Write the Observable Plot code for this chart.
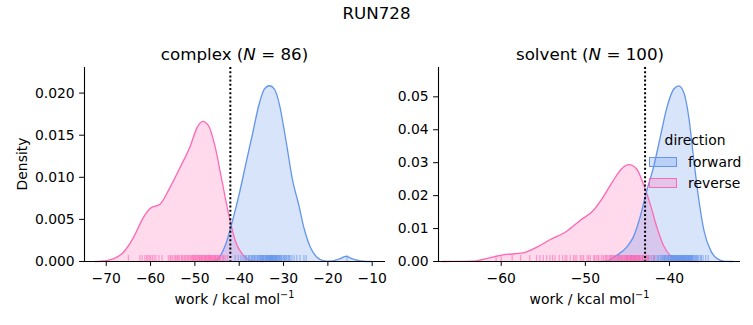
<!DOCTYPE html>
<html><head><meta charset="utf-8">
<script src="https://cdn.jsdelivr.net/npm/d3@7"></script>
<script src="https://cdn.jsdelivr.net/npm/@observablehq/plot@0.6"></script>
<style>
body{margin:0;background:#fff;font-family:"DejaVu Sans",sans-serif;color:#000;}
#fig{position:relative;width:753px;height:325px;overflow:hidden;}
.abs{position:absolute;white-space:nowrap;}
.sup{font-size:9.7px;position:relative;top:-6px;}
</style></head><body><div id="fig"></div>
<script>
const BLUE = "#6495ED", PINK = "#FF69B4";
const suptitle = "RUN728";
const panelTitles = [["complex", 86], ["solvent", 100]];
const xLabel = "work / kcal mol";
const yLabel = "Density";
const legendTitle = "direction";
const legendItems = ["forward", "reverse"];

// complex panel: KDE curves
const complexReverseX = [-72.5, -71.3, -68.4, -66.1, -63.8, -61.6, -60.1, -57.8, -55.6, -53.3, -51.0, -49.5, -48.25, -46.9, -45.4, -43.9, -42.4, -40.9, -39.0, -36.8, -34.5];
const complexReverseD = [0, 0.00003, 0.00032, 0.0011, 0.0029, 0.00525, 0.0063, 0.00684, 0.0088, 0.0112, 0.01376, 0.0159, 0.01664, 0.0161, 0.01355, 0.0096, 0.00566, 0.0025, 0.0007, 0.00005, 0];
const complexForwardX = [-47.5, -45.8, -44.5, -43.0, -41.5, -40.0, -38.5, -37.0, -35.5, -34.3, -33.2, -32.1, -30.95, -29.45, -27.95, -26.6, -25.45, -23.95, -22.45, -21.0, -19.7, -17.4, -15.9, -14.4, -12.1, -10];
const complexForwardD = [0, 0.00004, 0.0005, 0.0021, 0.00486, 0.0080, 0.0116, 0.01514, 0.0187, 0.0205, 0.02087, 0.0205, 0.0187, 0.01435, 0.0096, 0.0068, 0.0041, 0.0017, 0.0005, 0.0001, 0.00003, 0.0003, 0.0006, 0.0003, 0.00003, 0];
// solvent panel
const solventReverseX = [-67, -65.8, -63.4, -61.4, -59.8, -57.4, -55.8, -54.2, -52.2, -50.65, -49.05, -47.9, -46.7, -45.7, -44.8, -43.9, -43.1, -42.3, -41.5, -40.7, -39.9, -38.9, -37.9, -36.5];
const solventReverseD = [0, 0.00003, 0.0001, 0.0011, 0.002, 0.0026, 0.0043, 0.0066, 0.0092, 0.0124, 0.0155, 0.0195, 0.0245, 0.0281, 0.0294, 0.0281, 0.0235, 0.0175, 0.0104, 0.0048, 0.0018, 0.0003, 0.00003, 0];
const solventForwardX = [-48.5, -47.5, -46.3, -45.1, -44.3, -43.5, -42.7, -41.9, -41.1, -40.3, -39.5, -38.9, -38.3, -37.7, -37.1, -36.5, -35.9, -35.1, -34.3, -33.4, -32.5];
const solventForwardD = [0, 0.0001, 0.0018, 0.0043, 0.0074, 0.0134, 0.0215, 0.0286, 0.0377, 0.0468, 0.0523, 0.0533, 0.0513, 0.0437, 0.0306, 0.0185, 0.0094, 0.0033, 0.0008, 0.00005, 0];

// rug samples (estimated positions)
const complexReverseRug = [-65.0, -62.4, -61.9, -61.3, -60.9, -60.6, -60.3, -60.0, -59.6, -59.2, -58.8, -58.1, -57.4,
  -56.0, -55.6, -55.1, -54.7, -54.2, -53.8, -53.5, -53.1, -52.7, -52.4, -52.0, -51.7, -51.3,
  -51.0, -50.8, -50.5, -50.2, -50.0, -49.7, -49.5, -49.2, -49.0, -48.8, -48.6, -48.3, -48.1, -47.9, -47.7, -47.4, -47.2, -47.0, -46.8, -46.5,
  -46.3, -46.1, -45.9, -45.6, -45.4, -45.1, -44.8, -44.5, -44.2, -43.8, -43.4, -43.0, -42.6,
  -49.9, -49.4, -48.9, -48.4, -47.8, -47.3, -46.9, -46.4, -45.8, -45.3, -44.9, -44.6, -53.9, -52.9, -52.2, -51.5, -50.6, -50.3, -48.5, -47.6, -46.7, -46.2, -45.5, -44.4, -43.6, -55.4, -54.4];
const complexForwardRug = [-40.9, -40.2, -39.6, -39.1, -38.7, -38.3, -37.9, -37.6, -37.3, -37.0, -36.8, -36.5, -36.3, -36.0, -35.8, -35.6, -35.4, -35.2, -35.0, -34.8,
  -34.6, -34.4, -34.2, -34.0, -33.8, -33.7, -33.5, -33.3, -33.1, -33.0, -32.8, -32.6, -32.4, -32.2, -32.0, -31.8, -31.6, -31.4, -31.2, -31.0,
  -30.8, -30.6, -30.4, -30.1, -29.8, -29.5, -29.2, -28.9, -28.5, -28.1, -27.6, -27.0, -26.3, -25.4, -24.9, -15.7,
  -35.9, -35.3, -34.9, -34.5, -34.1, -33.9, -33.6, -33.4, -33.2, -32.9, -32.7, -32.5, -32.3, -32.1, -31.9, -31.7, -31.5, -31.3, -30.9, -30.5, -36.6, -37.2, -37.8, -38.5, -29.9, -29.4, -28.7, -34.7, -33.0, -32.6];
const solventReverseRug = [-60.6, -60.0, -58.7, -57.7, -56.6, -55.8, -55.4, -55.0, -54.6, -54.2, -53.6, -53.1, -52.7, -52.2, -51.8, -51.4, -51.0, -50.6, -50.2, -49.8,
  -49.4, -49.0, -48.7, -48.4, -48.1, -47.8, -47.6, -47.4, -47.2, -47.0, -46.8, -46.6, -46.4, -46.2, -46.0, -45.9, -45.7, -45.6, -45.4, -45.3,
  -45.1, -45.0, -44.9, -44.8, -44.7, -44.6, -44.5, -44.4, -44.3, -44.2, -44.1, -44.0, -43.9, -43.8, -43.7, -43.6, -43.5, -43.4, -43.2, -43.0,
  -42.8, -42.6, -42.4, -42.1, -41.8,
  -53.9, -52.4, -51.2, -50.4, -49.6, -48.9, -48.5, -47.9, -47.5, -47.1, -46.7, -46.3, -45.8, -45.5, -45.2, -44.95, -44.75, -44.55, -44.35, -44.15, -43.95, -43.75, -43.55, -43.3, -43.1, -42.9, -42.7, -46.9, -46.5, -46.1, -45.65, -45.35, -45.05, -44.65, -44.25];
const solventForwardRug = [-46.0, -45.1, -44.5, -44.0, -43.6, -43.2, -42.8, -42.5, -42.2, -41.9, -41.6, -41.3, -41.1, -40.9, -40.7, -40.5, -40.3, -40.1, -39.9, -39.8,
  -39.6, -39.5, -39.4, -39.3, -39.2, -39.1, -39.0, -38.9, -38.8, -38.7, -38.6, -38.5, -38.4, -38.3, -38.2, -38.1, -38.0, -37.9, -37.8, -37.7,
  -37.6, -37.5, -37.4, -37.3, -37.2, -37.0, -36.8, -36.6, -36.3, -36.0, -35.7, -35.4,
  -41.8, -41.4, -41.0, -40.8, -40.6, -40.4, -40.2, -40.0, -39.85, -39.7, -39.55, -39.45, -39.35, -39.25, -39.15, -39.05, -38.95, -38.85, -38.75, -38.65, -38.55, -38.45, -38.35, -38.25, -38.15, -38.05, -37.95, -37.85, -37.75, -37.65, -37.55, -37.45, -37.35, -37.1, -36.9, -36.7, -36.5, -39.65, -39.0, -38.6, -38.1, -37.7, -40.15, -40.55, -39.75, -38.4, -37.25, -36.2];

const complexRef = -42.0, solventRef = -42.9;
const complexXTicks = [-70, -60, -50, -40, -30, -20, -10];
const complexYTicks = [0, 0.005, 0.01, 0.015, 0.02];
const solventXTicks = [-60, -50, -40];
const solventYTicks = [0, 0.01, 0.02, 0.03, 0.04, 0.05];

const toRows = (xs, ds) => xs.map((x, i) => ({x, y: ds[i]}));

function panel(o) {
  const H = 325, mt = 67, mb = 64;
  const rugInset = H - mt - mb - 6;
  const fwd = toRows(o.fx, o.fd), rev = toRows(o.rx, o.rd);
  const curve = "monotone-x";
  return Plot.plot({
    width: o.width, height: H, marginLeft: o.ml, marginRight: o.mr, marginTop: mt, marginBottom: mb,
    style: {fontFamily: "'DejaVu Sans', sans-serif", fontSize: "13.9px", color: "#000", background: "transparent", overflow: "visible"},
    x: {domain: o.xDomain, ticks: o.xTicks, tickFormat: d3.format("d"), tickSize: 4.9, tickPadding: 7, label: null},
    y: {domain: o.yDomain, ticks: o.yTicks, tickFormat: d3.format(o.yFmt), tickSize: 4.9, tickPadding: 4.9, label: null},
    marks: [
      Plot.areaY(rev, {x: "x", y: "y", fill: PINK, fillOpacity: 0.25, curve}),
      Plot.areaY(fwd, {x: "x", y: "y", fill: BLUE, fillOpacity: 0.25, curve}),
      Plot.lineY(rev, {x: "x", y: "y", stroke: PINK, strokeWidth: 1.3, curve}),
      Plot.lineY(fwd, {x: "x", y: "y", stroke: BLUE, strokeWidth: 1.3, curve}),
      Plot.tickX(o.rugF, {x: d => d, stroke: BLUE, strokeOpacity: 0.6, strokeWidth: 1.2, insetTop: rugInset}),
      Plot.tickX(o.rugR, {x: d => d, stroke: PINK, strokeOpacity: 0.6, strokeWidth: 1.2, insetTop: rugInset}),
      Plot.ruleX([o.ref], {stroke: "black", strokeWidth: 2, strokeDasharray: "2,2.2"}),
      Plot.ruleY([0], {stroke: "black", strokeWidth: 1.1}),
      Plot.ruleX([o.xDomain[0]], {stroke: "black", strokeWidth: 1.1})
    ]
  });
}

const fig = document.getElementById("fig");
function place(el, left, top) {
  const w = document.createElement("div");
  w.className = "abs"; w.style.left = left + "px"; w.style.top = top + "px";
  w.appendChild(el); fig.appendChild(w); return w;
}

const left = panel({width: 395, ml: 84, mr: 10, xDomain: [-74.9, -7.0], yDomain: [0, 0.02304],
  xTicks: complexXTicks, yTicks: complexYTicks, yFmt: ".3f",
  fx: complexForwardX, fd: complexForwardD, rx: complexReverseX, rd: complexReverseD,
  rugF: complexForwardRug, rugR: complexReverseRug, ref: complexRef});
place(left, 0, 0);
const right = panel({width: 358, ml: 43, mr: 13, xDomain: [-67.45, -31.56], yDomain: [0, 0.0589],
  xTicks: solventXTicks, yTicks: solventYTicks, yFmt: ".2f",
  fx: solventForwardX, fd: solventForwardD, rx: solventReverseX, rd: solventReverseD,
  rugF: solventForwardRug, rugR: solventReverseRug, ref: solventRef});
place(right, 395, 0);

function text(html, cx, top, size, extra) {
  const d = document.createElement("div");
  d.className = "abs";
  d.style.left = cx + "px"; d.style.top = top + "px";
  d.style.fontSize = size + "px"; d.style.lineHeight = Math.round(size * 1.2) + "px";
  d.style.transform = "translateX(-50%)" + (extra || "");
  d.innerHTML = html;
  fig.appendChild(d); return d;
}
text(suptitle, 376.5, 3, 16.7);
text(`${panelTitles[0][0]} (<i>N</i> = ${panelTitles[0][1]})`, 234.5, 43.7, 16.7);
text(`${panelTitles[1][0]} (<i>N</i> = ${panelTitles[1][1]})`, 590, 43.7, 16.7);
text(`${xLabel}<span class="sup">−1</span>`, 234.5, 291, 13.9);
text(`${xLabel}<span class="sup">−1</span>`, 589.5, 291, 13.9);
const yl = document.createElement("div");
yl.className = "abs";
yl.style.left = "22px"; yl.style.top = "164px"; yl.style.fontSize = "13.9px"; yl.style.lineHeight = "16px";
yl.style.transform = "translate(-50%,-50%) rotate(-90deg)";
yl.textContent = yLabel; fig.appendChild(yl);

// legend
text(legendTitle, 695, 132, 13.9);
const colors = [BLUE, PINK];
const rowsY = [162, 183];
legendItems.forEach((name, i) => {
  const p = document.createElement("div");
  p.className = "abs";
  const c = d3.color(colors[i]); c.opacity = 0.25;
  Object.assign(p.style, {left: "649px", top: (rowsY[i] - 5) + "px", width: "26px", height: "8px",
    background: c.formatRgb(), border: "1.2px solid " + colors[i]});
  fig.appendChild(p);
  const t = document.createElement("div");
  t.className = "abs";
  Object.assign(t.style, {left: "688px", top: (rowsY[i] - 8) + "px", fontSize: "13.9px", lineHeight: "16px"});
  t.textContent = name; fig.appendChild(t);
});
</script></body></html>
